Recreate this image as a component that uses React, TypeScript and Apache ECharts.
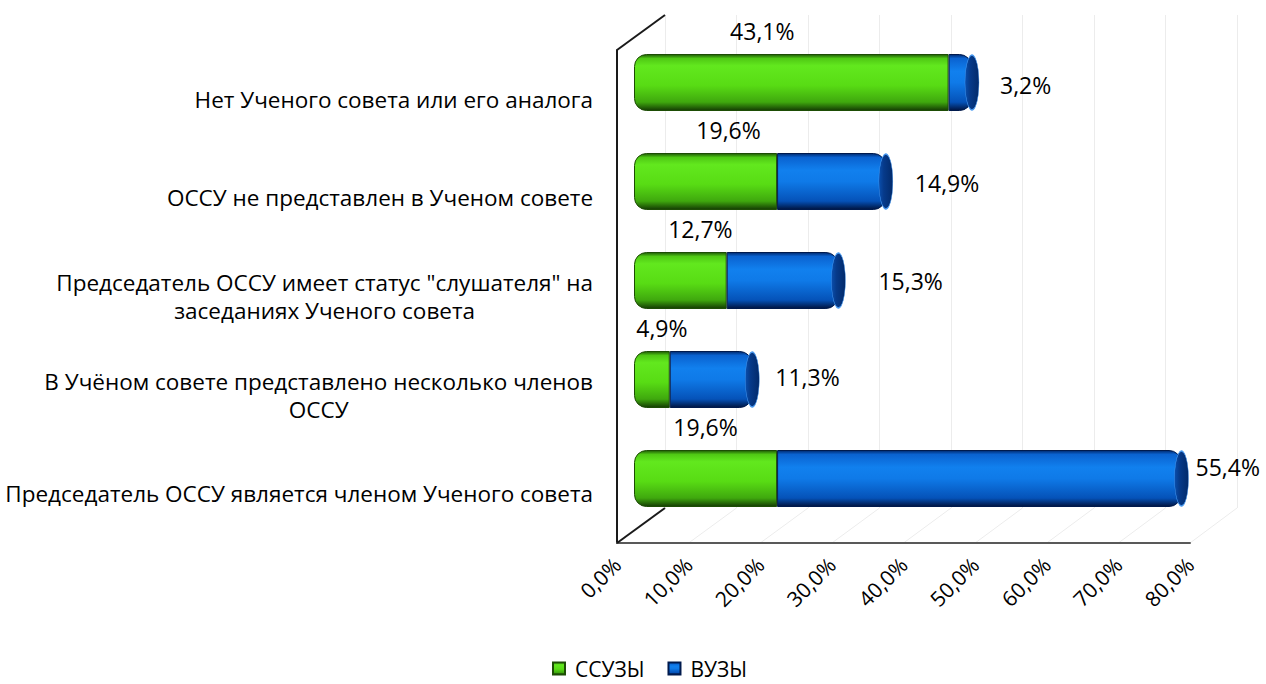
import React, { useEffect, useRef } from "react";
import * as echarts from "echarts";

const categories = [
  "Нет Ученого совета или его аналога",
  "ОССУ не представлен в Ученом совете",
  "Председатель ОССУ имеет статус \"слушателя\" на\nзаседаниях Ученого совета",
  "В Учёном совете представлено несколько членов\nОССУ",
  "Председатель ОССУ является членом Ученого совета",
];
const ssuzValues = [43.1, 19.6, 12.7, 4.9, 19.6];
const vuzValues = [3.2, 14.9, 15.3, 11.3, 55.4];
const seriesNames = ["ССУЗЫ", "ВУЗЫ"];
const axisMin = 0;
const axisMax = 80;
const axisStep = 10;

// label placement tweaks (styling, not data)
const greenLabelShift = [-29, 23, 20, 10, 0];
const blueLabelShift = [
  [4, 2],
  [5, 1],
  [16, 0],
  [-1, -3],
  [-10, -12],
];

const FONT = "'Open Sans', 'Noto Sans', sans-serif";
const BAR = { left: 634, top: 33, width: 584, height: 495 };
const FRONT = { left: 617, top: 50, width: 573, height: 493 };
const BACK = { left: 665, top: 15, width: 572, height: 493 };

const pct = (v: number) => v.toFixed(1).replace(".", ",") + "%";

const greenGrad = new echarts.graphic.LinearGradient(0, 0, 0, 1, [
  { offset: 0, color: "#1f5a06" },
  { offset: 0.07, color: "#4fc814" },
  { offset: 0.2, color: "#62e81e" },
  { offset: 0.55, color: "#58dc14" },
  { offset: 0.85, color: "#3fa80e" },
  { offset: 1, color: "#143c03" },
]);
const blueGrad = new echarts.graphic.LinearGradient(0, 0, 0, 1, [
  { offset: 0, color: "#002a70" },
  { offset: 0.07, color: "#0a62d0" },
  { offset: 0.3, color: "#1180ee" },
  { offset: 0.5, color: "#0f7ae8" },
  { offset: 0.85, color: "#0552b8" },
  { offset: 1, color: "#001440" },
]);
const capGrad = new echarts.graphic.LinearGradient(0, 0, 1, 0, [
  { offset: 0, color: "#0a4fae" },
  { offset: 0.35, color: "#063a8a" },
  { offset: 1, color: "#022a6a" },
]);

export default function App() {
  const ref = useRef<HTMLDivElement>(null);
  useEffect(() => {
    if (!ref.current) return;
    const chart = echarts.init(ref.current, undefined, { renderer: "svg" });
    const totals = ssuzValues.map((v, i) => +(v + vuzValues[i]).toFixed(1));

    const catAxisBase = {
      type: "category" as const,
      data: categories,
      inverse: true,
    };

    chart.setOption({
      animation: false,
      backgroundColor: "#ffffff",
      textStyle: { fontFamily: FONT },
      legend: {
        data: seriesNames,
        left: 552,
        top: 658,
        padding: 0,
        icon: "rect",
        itemWidth: 12,
        itemHeight: 12,
        itemGap: 23,
        textStyle: { fontFamily: FONT, fontSize: 21, color: "#000", padding: [0, 0, 0, 5] },
      },
      grid: [
        { ...BAR, containLabel: false },
        { ...FRONT, containLabel: false },
        { ...BACK, containLabel: false },
      ],
      xAxis: [
        {
          gridIndex: 0,
          type: "value",
          min: axisMin,
          max: axisMax,
          interval: axisStep,
          show: false,
        },
        {
          gridIndex: 1,
          type: "value",
          min: axisMin,
          max: axisMax,
          interval: axisStep,
          axisLine: { show: true, lineStyle: { color: "#595959", width: 2 } },
          axisTick: { show: false },
          splitLine: { show: false },
          axisLabel: {
            rotate: 45,
            margin: 18,
            fontSize: 21,
            color: "#000",
            fontFamily: FONT,
            formatter: (v: number) => pct(v),
          },
        },
        {
          gridIndex: 2,
          type: "value",
          min: axisMin,
          max: axisMax,
          interval: axisStep,
          axisLine: { show: false },
          axisTick: { show: false },
          axisLabel: { show: false },
          splitLine: { show: true, lineStyle: { color: "#ececec", width: 1 } },
        },
      ],
      yAxis: [
        { ...catAxisBase, gridIndex: 0, show: false },
        {
          ...catAxisBase,
          gridIndex: 1,
          axisLine: { show: true, lineStyle: { color: "#1a1a1a", width: 2 } },
          axisTick: { show: false },
          splitLine: { show: false },
          axisLabel: {
            margin: 24,
            fontSize: 22.5,
            color: "#000",
            fontFamily: FONT,
            lineHeight: 28,
            formatter: (s: string) =>
              s
                .split("\n")
                .map((line) => `{c|${line}}`)
                .join("\n"),
            rich: {
              c: { align: "center", fontSize: 22.5, fontFamily: FONT, color: "#000", lineHeight: 28 },
            },
          },
        },
        { ...catAxisBase, gridIndex: 2, show: false },
      ],
      series: [
        {
          name: seriesNames[0],
          type: "bar",
          xAxisIndex: 0,
          yAxisIndex: 0,
          stack: "total",
          barWidth: 57,
          z: 3,
          itemStyle: {
            color: greenGrad,
            borderRadius: [12, 0, 0, 12],
            borderColor: "#1d4d05",
            borderWidth: 1,
          },
          data: ssuzValues.map((v, i) => ({
            value: v,
            label: { offset: [greenLabelShift[i], 0] },
          })),
          label: {
            show: true,
            position: "top",
            distance: 12,
            fontSize: 23,
            color: "#000",
            fontFamily: FONT,
            formatter: (p: any) => pct(p.value),
          },
        },
        {
          name: seriesNames[1],
          type: "bar",
          xAxisIndex: 0,
          yAxisIndex: 0,
          stack: "total",
          barWidth: 57,
          z: 3,
          itemStyle: {
            color: blueGrad,
            borderRadius: [0, 12, 12, 0],
            borderColor: "#001a4d",
            borderWidth: 1,
          },
          data: vuzValues.map((v, i) => ({
            value: v,
            label: { offset: blueLabelShift[i] },
          })),
          label: {
            show: true,
            position: "right",
            distance: 24,
            fontSize: 23,
            color: "#000",
            fontFamily: FONT,
            formatter: (p: any) => pct(p.value),
          },
        },
        {
          name: "cap",
          type: "scatter",
          xAxisIndex: 0,
          yAxisIndex: 0,
          symbol: "circle",
          symbolSize: [14, 55],
          z: 4,
          silent: true,
          itemStyle: { color: capGrad, borderColor: "#4a9af0", borderWidth: 0.8, opacity: 1 },
          data: totals.map((t, i) => [t, i]),
        },
      ],
    });

    // 3D frame lines computed from axes
    const frontBottom = FRONT.top + FRONT.height;
    const backBottom = BACK.top + BACK.height;
    const graphics: any[] = [];
    for (let v = axisMin + axisStep; v <= axisMax; v += axisStep) {
      const xf = chart.convertToPixel({ xAxisIndex: 1 }, v) as number;
      const xb = chart.convertToPixel({ xAxisIndex: 2 }, v) as number;
      graphics.push({
        type: "line",
        z: 0,
        shape: { x1: xf, y1: frontBottom, x2: xb, y2: backBottom },
        style: { stroke: "#ececec", lineWidth: 1 },
      });
    }
    graphics.push({
      type: "line",
      z: 10,
      shape: { x1: FRONT.left, y1: frontBottom, x2: BACK.left, y2: backBottom },
      style: { stroke: "#1a1a1a", lineWidth: 2 },
    });
    graphics.push({
      type: "line",
      z: 10,
      shape: { x1: FRONT.left, y1: FRONT.top, x2: BACK.left, y2: BACK.top },
      style: { stroke: "#1a1a1a", lineWidth: 2 },
    });
    chart.setOption({ graphic: graphics });

    return () => chart.dispose();
  }, []);

  return (
    <div
      ref={ref}
      style={{ position: "absolute", left: 0, top: 0, width: 1266, height: 684 }}
    />
  );
}
